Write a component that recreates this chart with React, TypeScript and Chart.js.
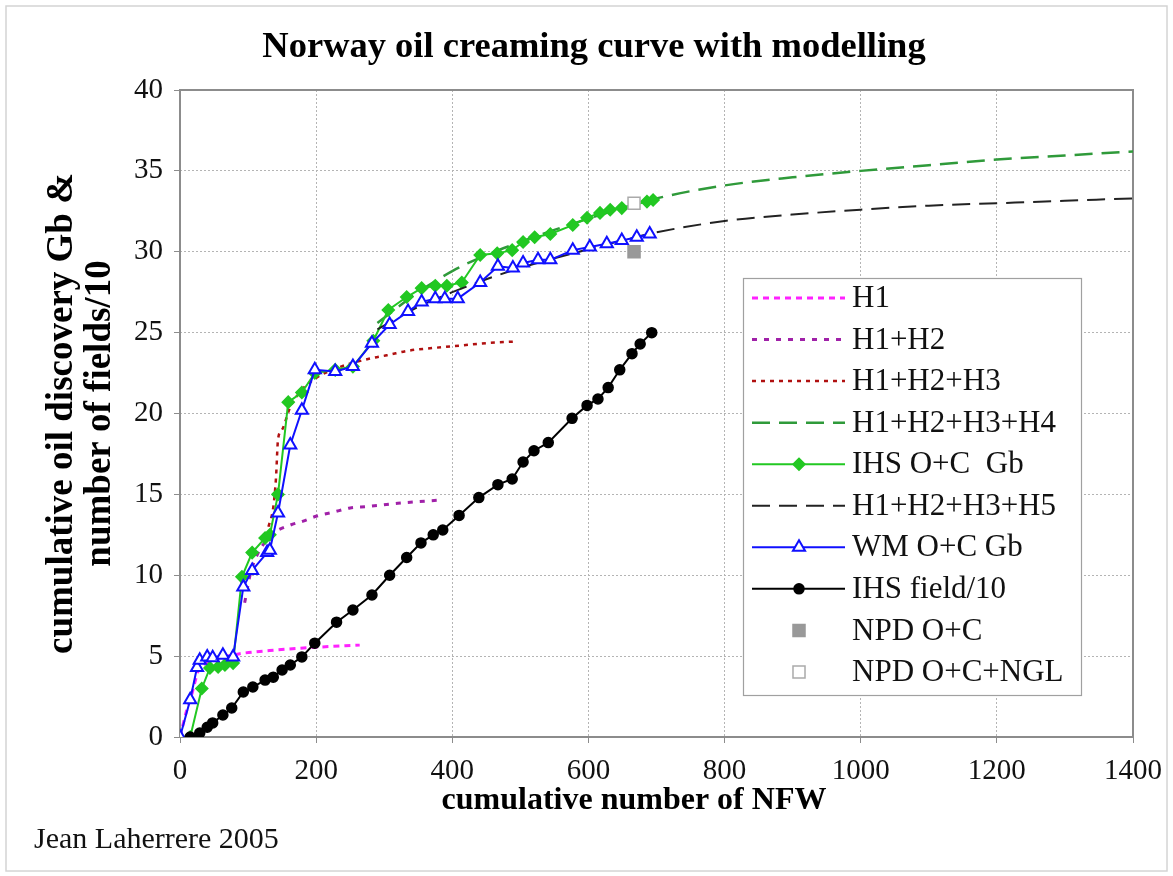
import { useEffect, useRef } from 'react';
import { Chart, registerables } from 'chart.js';

Chart.register(...registerables);

const TITLE = 'Norway oil creaming curve with modelling';
const X_TITLE = 'cumulative number of NFW';
const Y_TITLE = ['cumulative oil discovery Gb &', 'number of fields/10'];
const CREDIT = 'Jean Laherrere 2005';

const X_TICKS = [0, 200, 400, 600, 800, 1000, 1200, 1400];
const Y_TICKS = [0, 5, 10, 15, 20, 25, 30, 35, 40];

const LABELS = [
  'H1',
  'H1+H2',
  'H1+H2+H3',
  'H1+H2+H3+H4',
  'IHS O+C  Gb',
  'H1+H2+H3+H5',
  'WM O+C Gb',
  'IHS field/10',
  'NPD O+C',
  'NPD O+C+NGL',
];

const h1X = [0, 10, 17, 27, 40, 60, 88, 142, 201, 264];
const h1Y = [0, 1.67, 2.6, 4.1, 4.6, 4.9, 5.15, 5.38, 5.55, 5.68];

const h12X = [95, 104, 115, 126, 137, 162, 181, 201, 225, 250, 275, 320, 382];
const h12Y = [8.3, 10.2, 11.4, 12.1, 12.6, 13.1, 13.35, 13.66, 13.9, 14.16, 14.25, 14.45, 14.65];

const h123X = [130, 137, 141, 144, 150, 162, 180, 200, 230, 279, 304, 338, 372, 411, 450, 492];
const h123Y = [13.0, 14.2, 16.0, 18.4, 19.0, 20.4, 21.5, 22.2, 22.8, 23.4, 23.6, 23.9, 24.05, 24.2, 24.35, 24.45];

const h1234X = [290, 350, 400, 450, 500, 550, 600, 650, 700, 800, 900, 1000, 1100, 1200, 1300, 1400];
const h1234Y = [25.6, 27.5, 28.8, 29.8, 30.6, 31.35, 32.05, 32.7, 33.3, 34.1, 34.6, 35.0, 35.35, 35.7, 35.95, 36.2];

const ihsX = [15, 32, 44, 56, 66, 78, 91, 106, 125, 132, 144, 159, 179, 198, 228, 254, 284, 306, 333, 355, 375, 392, 414, 441, 466, 488, 504, 521, 544, 577, 598, 617, 632, 649, 686, 695];
const ihsY = [0, 3.0, 4.27, 4.33, 4.45, 4.57, 9.9, 11.4, 12.3, 12.5, 15.0, 20.7, 21.3, 22.5, 22.7, 22.9, 24.5, 26.4, 27.2, 27.75, 27.9, 27.9, 28.1, 29.8, 29.9, 30.1, 30.6, 30.9, 31.1, 31.65, 32.1, 32.4, 32.6, 32.7, 33.1, 33.2];

const h1235X = [290, 350, 400, 450, 500, 550, 600, 650, 700, 800, 900, 1000, 1100, 1200, 1300, 1400];
const h1235Y = [25.2, 26.6, 27.5, 28.3, 29.0, 29.6, 30.15, 30.7, 31.2, 31.9, 32.3, 32.6, 32.85, 33.0, 33.15, 33.3];

const wmX = [0, 15, 25, 29, 40, 48, 63, 78, 93, 106, 128, 132, 144, 162, 179, 198, 228, 254, 282, 308, 335, 355, 375, 389, 408, 441, 467, 489, 504, 526, 544, 577, 602, 627, 649, 671, 690];
const wmY = [0, 2.3, 4.3, 4.75, 4.95, 4.9, 5.05, 4.95, 9.27, 10.3, 11.4, 11.55, 13.85, 18.05, 20.2, 22.7, 22.6, 22.9, 24.35, 25.5, 26.3, 26.9, 27.1, 27.1, 27.1, 28.1, 29.1, 29.0, 29.3, 29.5, 29.5, 30.1, 30.3, 30.5, 30.7, 30.9, 31.1];

const fieldX = [15, 29, 40, 48, 63, 76, 93, 107, 125, 137, 150, 162, 179, 198, 230, 254, 282, 308, 333, 354, 372, 386, 410, 439, 467, 488, 504, 520, 541, 576, 598, 614, 629, 646, 664, 676, 693];
const fieldY = [0, 0.25, 0.6, 0.87, 1.36, 1.79, 2.78, 3.09, 3.52, 3.7, 4.14, 4.45, 4.95, 5.8, 7.1, 7.85, 8.78, 10.0, 11.1, 12.0, 12.5, 12.8, 13.7, 14.8, 15.6, 15.95, 17.0, 17.7, 18.2, 19.7, 20.5, 20.9, 21.6, 22.7, 23.7, 24.3, 25.0];

const npdX = [667];
const npdY = [30.0];
const npdNglX = [667];
const npdNglY = [33.0];

const FONT = "'Liberation Serif', 'Times New Roman', serif";

const pts = (xs: number[], ys: number[]) => xs.map((x, i) => ({ x, y: ys[i] }));

type Style = {
  color: string;
  width: number;
  dash: number[];
  line: boolean;
  marker: 'none' | 'diamond' | 'triangle' | 'circle' | 'square';
  fill: string;
  stroke: string;
  radius: number;
};

const STYLES: Style[] = [
  { color: '#ff22ff', width: 3, dash: [6, 5], line: true, marker: 'none', fill: '', stroke: '', radius: 0 },
  { color: '#a020a8', width: 3, dash: [5, 7], line: true, marker: 'none', fill: '', stroke: '', radius: 0 },
  { color: '#b01010', width: 2.5, dash: [4, 5], line: true, marker: 'none', fill: '', stroke: '', radius: 0 },
  { color: '#2f9a3a', width: 2.5, dash: [18, 9], line: true, marker: 'none', fill: '', stroke: '', radius: 0 },
  { color: '#22c822', width: 2, dash: [], line: true, marker: 'diamond', fill: '#22c822', stroke: '#22c822', radius: 6 },
  { color: '#222222', width: 2, dash: [18, 9], line: true, marker: 'none', fill: '', stroke: '', radius: 0 },
  { color: '#1010ff', width: 2, dash: [], line: true, marker: 'triangle', fill: '#ffffff', stroke: '#1010ff', radius: 7 },
  { color: '#000000', width: 2, dash: [], line: true, marker: 'circle', fill: '#000000', stroke: '#000000', radius: 5 },
  { color: '#999999', width: 0, dash: [], line: false, marker: 'square', fill: '#999999', stroke: '#999999', radius: 8.5 },
  { color: '#aaaaaa', width: 0, dash: [], line: false, marker: 'square', fill: '#ffffff', stroke: '#aaaaaa', radius: 8.5 },
];

const SERIES = [
  pts(h1X, h1Y),
  pts(h12X, h12Y),
  pts(h123X, h123Y),
  pts(h1234X, h1234Y),
  pts(ihsX, ihsY),
  pts(h1235X, h1235Y),
  pts(wmX, wmY),
  pts(fieldX, fieldY),
  pts(npdX, npdY),
  pts(npdNglX, npdNglY),
];

const pointStyleOf = (m: Style['marker']) =>
  m === 'diamond' ? 'rectRot' : m === 'triangle' ? 'triangle' : m === 'square' ? 'rect' : 'circle';

function drawMarker(ctx: CanvasRenderingContext2D, s: Style, cx: number, cy: number) {
  if (s.marker === 'none') return;
  const r = s.radius;
  ctx.save();
  ctx.setLineDash([]);
  ctx.beginPath();
  if (s.marker === 'diamond') {
    ctx.moveTo(cx, cy - r);
    ctx.lineTo(cx + r, cy);
    ctx.lineTo(cx, cy + r);
    ctx.lineTo(cx - r, cy);
    ctx.closePath();
  } else if (s.marker === 'triangle') {
    for (let k = 0; k < 3; k++) {
      const a = (k * 2 * Math.PI) / 3;
      const px = cx + Math.sin(a) * r;
      const py = cy - Math.cos(a) * r;
      if (k === 0) ctx.moveTo(px, py);
      else ctx.lineTo(px, py);
    }
    ctx.closePath();
  } else if (s.marker === 'circle') {
    ctx.arc(cx, cy, r, 0, Math.PI * 2);
  } else {
    const h = r * Math.SQRT1_2;
    ctx.rect(cx - h, cy - h, 2 * h, 2 * h);
  }
  ctx.fillStyle = s.fill;
  ctx.fill();
  ctx.lineWidth = s.marker === 'triangle' ? 2 : 1.5;
  ctx.strokeStyle = s.stroke;
  ctx.stroke();
  ctx.restore();
}

const decorPlugin = {
  id: 'decor',
  beforeDraw(chart: any) {
    const ctx: CanvasRenderingContext2D = chart.ctx;
    ctx.save();
    ctx.fillStyle = '#ffffff';
    ctx.fillRect(0, 0, chart.width, chart.height);
    ctx.strokeStyle = '#d4d4d4';
    ctx.lineWidth = 1.5;
    ctx.strokeRect(6, 6, chart.width - 12, chart.height - 11);
    ctx.restore();
  },
  beforeDatasetsDraw(chart: any) {
    const ctx: CanvasRenderingContext2D = chart.ctx;
    const a = chart.chartArea;
    ctx.save();
    ctx.strokeStyle = '#8c8c8c';
    ctx.lineWidth = 2;
    ctx.strokeRect(a.left, a.top, a.right - a.left, a.bottom - a.top);
    ctx.restore();
  },
  afterDraw(chart: any) {
    const ctx: CanvasRenderingContext2D = chart.ctx;
    ctx.save();
    ctx.textBaseline = 'middle';
    // chart title
    ctx.fillStyle = '#000';
    ctx.textAlign = 'center';
    ctx.font = `bold 36.5px ${FONT}`;
    ctx.fillText(TITLE, 594, 48);
    // x axis title
    ctx.font = `bold 32px ${FONT}`;
    ctx.fillText(X_TITLE, 634, 801);
    // credit
    ctx.fillStyle = '#111';
    ctx.font = `30px ${FONT}`;
    ctx.textAlign = 'left';
    ctx.fillText(CREDIT, 34, 840);
    // legend
    const bx = 743, by = 278, bw = 338, bh = 417;
    ctx.fillStyle = '#ffffff';
    ctx.fillRect(bx, by, bw, bh);
    ctx.strokeStyle = '#a0a0a0';
    ctx.lineWidth = 1.2;
    ctx.strokeRect(bx + 0.5, by + 0.5, bw, bh);
    ctx.font = `31px ${FONT}`;
    LABELS.forEach((lab, i) => {
      const s = STYLES[i];
      const y = 298 + i * 41.55;
      if (s.line) {
        ctx.save();
        ctx.strokeStyle = s.color;
        ctx.lineWidth = s.width;
        ctx.setLineDash(s.dash);
        ctx.beginPath();
        ctx.moveTo(752, y);
        ctx.lineTo(845, y);
        ctx.stroke();
        ctx.restore();
      }
      drawMarker(ctx, s, 799, y);
      ctx.fillStyle = '#111';
      ctx.fillText(lab, 852, y + 1);
    });
    ctx.restore();
  },
};

export default function App() {
  const ref = useRef<HTMLCanvasElement>(null);
  useEffect(() => {
    document.body.style.margin = '0';
    Chart.defaults.font.family = FONT;
    Chart.defaults.color = '#111';
    const datasets = SERIES.map((data, i) => {
      const s = STYLES[i];
      return {
        label: LABELS[i],
        data,
        showLine: s.line,
        borderColor: s.line ? s.color : s.stroke,
        borderWidth: s.line ? s.width : 1.5,
        borderDash: s.dash,
        cubicInterpolationMode: s.marker === 'none' ? ('monotone' as const) : ('default' as const),
        pointRadius: s.radius,
        pointStyle: pointStyleOf(s.marker) as any,
        pointBackgroundColor: s.fill,
        pointBorderColor: s.stroke,
        pointBorderWidth: s.marker === 'triangle' ? 2 : 1.5,
        order: 20 - i,
        fill: false,
      };
    });
    const chart = new Chart(ref.current!, {
      type: 'scatter',
      data: { datasets },
      plugins: [decorPlugin],
      options: {
        responsive: false,
        animation: false,
        events: [],
        layout: { padding: { left: 0, top: 90, right: 40, bottom: 0 } },
        plugins: {
          legend: { display: false },
          tooltip: { enabled: false },
          title: { display: false },
        },
        scales: {
          x: {
            type: 'linear',
            min: 0,
            max: 1400,
            afterBuildTicks: (scale: any) => {
              scale.ticks = X_TICKS.map((v) => ({ value: v }));
            },
            afterFit: (scale: any) => {
              scale.height = 139;
            },
            ticks: {
              font: { family: FONT, size: 29 },
              color: '#111',
              padding: 11,
              maxRotation: 0,
              autoSkip: false,
              callback: (v: any) => String(v),
            },
            grid: { color: '#b4b4b4', tickColor: '#8c8c8c', tickLength: 6, lineWidth: 1 },
            border: { display: false, dash: [2, 2] },
            title: { display: false },
          },
          y: {
            type: 'linear',
            min: 0,
            max: 40,
            afterBuildTicks: (scale: any) => {
              scale.ticks = Y_TICKS.map((v) => ({ value: v }));
            },
            afterFit: (scale: any) => {
              scale.width = 180;
            },
            ticks: {
              font: { family: FONT, size: 29 },
              color: '#111',
              padding: 11,
              autoSkip: false,
              callback: (v: any) => String(v),
            },
            grid: { color: '#b4b4b4', tickColor: '#8c8c8c', tickLength: 6, lineWidth: 1 },
            border: { display: false, dash: [2, 2] },
            title: {
              display: true,
              text: Y_TITLE,
              color: '#000',
              font: { family: FONT, size: 37, weight: 'bold', lineHeight: 1.03 },
              padding: { top: 43, bottom: 0 },
            },
          },
        },
      },
    });
    return () => chart.destroy();
  }, []);
  return (
    <div style={{ position: 'absolute', left: 0, top: 0, width: 1173, height: 876 }}>
      <canvas ref={ref} width={1173} height={876} style={{ width: '1173px', height: '876px', display: 'block' }} />
    </div>
  );
}
